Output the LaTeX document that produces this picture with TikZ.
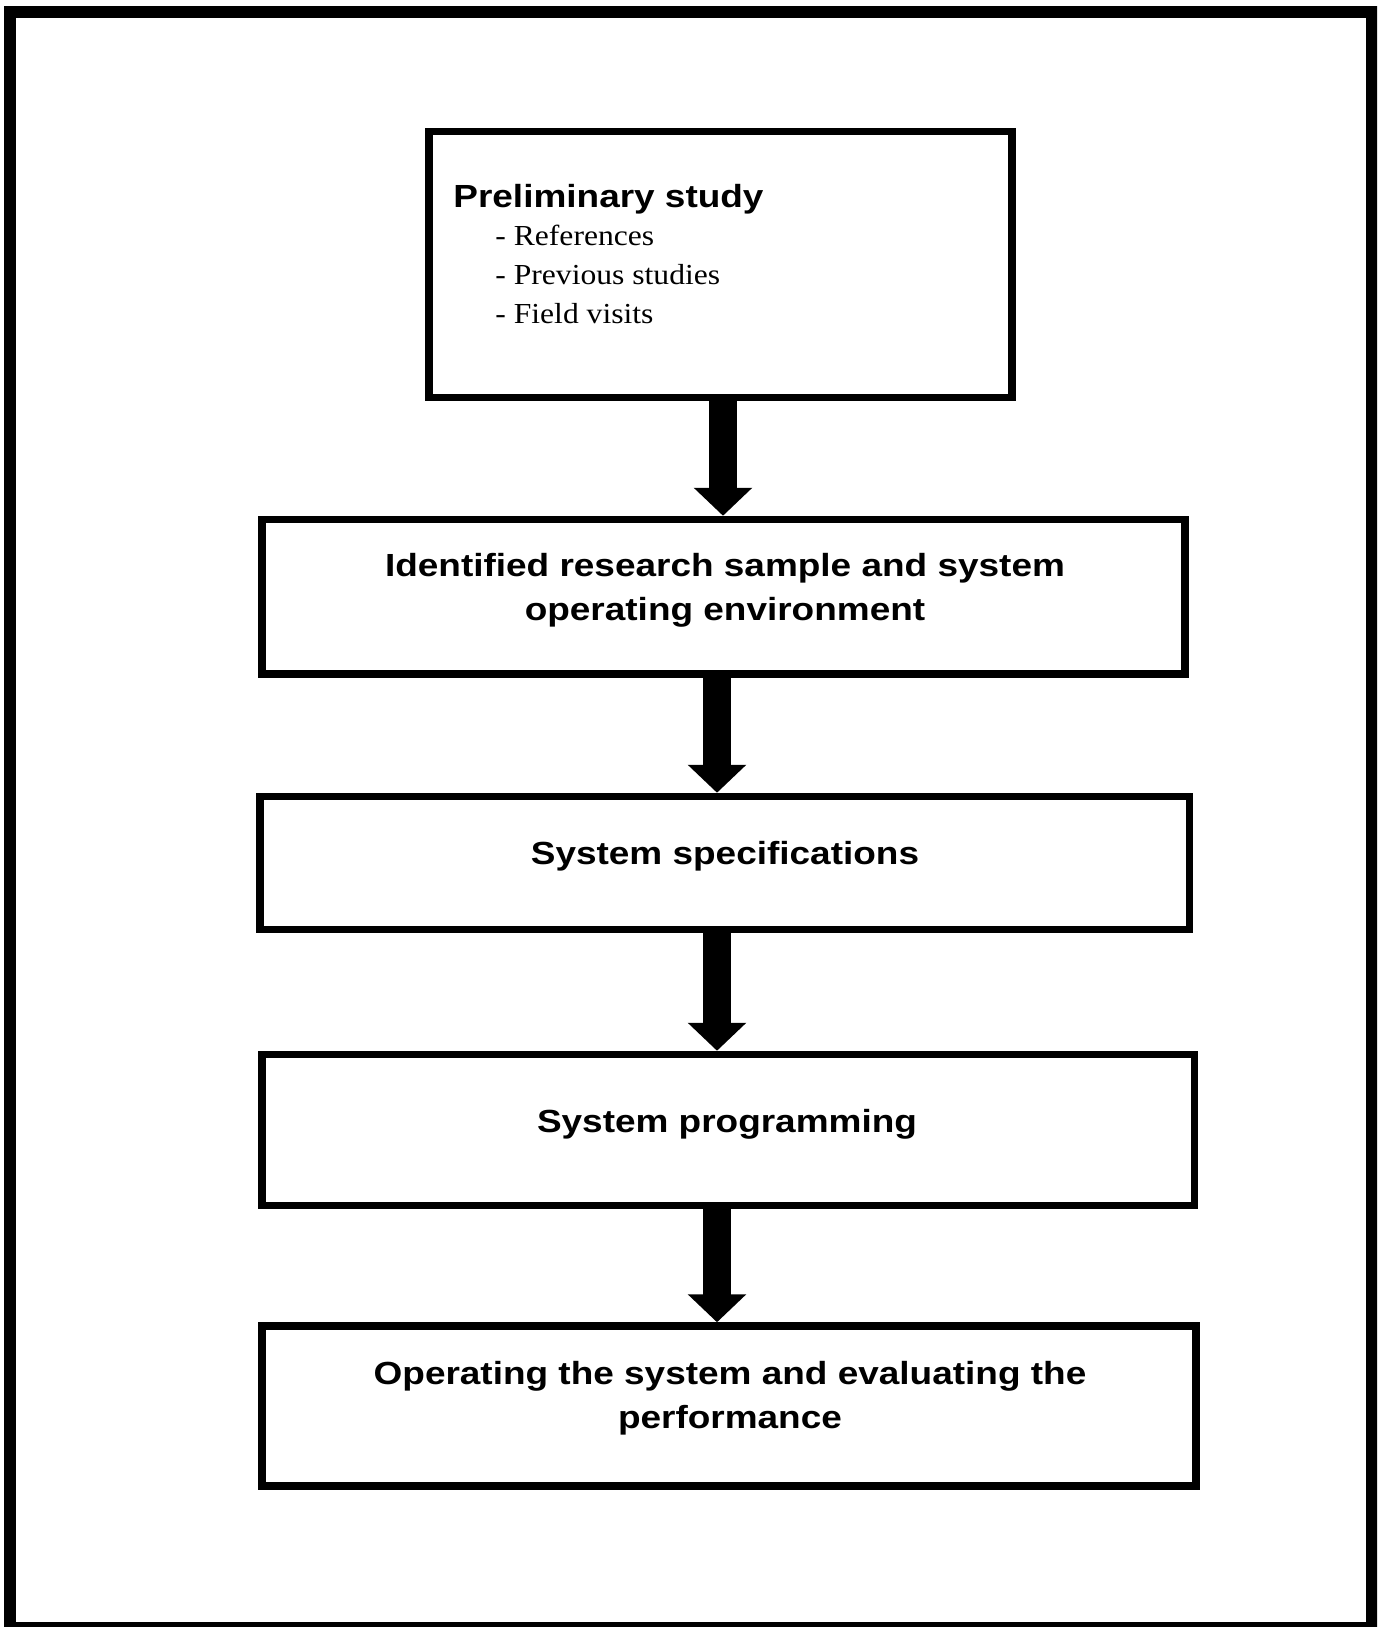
\documentclass[tikz,border=0pt]{standalone}
\usepackage{fontspec}
\setmainfont{Liberation Serif}
\newfontfamily\hdfont[FakeStretch=1.155]{Liberation Sans}
\newfontfamily\itemfont[FakeStretch=1.09]{Liberation Serif}
\usetikzlibrary{arrows.meta}
\begin{document}
\begin{tikzpicture}[x=0.5pt,y=-0.5pt,
  stagebox/.style={draw=black, line width=3.75pt, inner sep=0pt},
  headtext/.style={inner sep=0pt, anchor=base, align=center,
    font=\hdfont\bfseries\fontsize{16pt}{22pt}\selectfont},
  itemtext/.style={inner sep=0pt, anchor=base west, align=left,
    font=\itemfont\fontsize{14.5pt}{19.5pt}\selectfont},
  bigarrow/.style={draw=black, line width=13.75pt,
    -{Triangle[length=14pt,width=28.5pt]}}]
\useasboundingbox (0,0) rectangle (1377,1627);
\clip (0,0) rectangle (1377,1627);
% outer frame
\draw[line width=6pt] (10,12) rectangle (1372,1628);
% boxes
\node[stagebox, minimum width=291.5pt, minimum height=133pt] (p1) at (720.5,264.5) {};
\node[stagebox, minimum width=461.5pt, minimum height=77.25pt] (p2) at (723.5,596.75) {};
\node[stagebox, minimum width=464.75pt, minimum height=66.5pt] (p3) at (724.75,863) {};
\node[stagebox, minimum width=466.25pt, minimum height=75.5pt] (p4) at (728.25,1130) {};
\node[stagebox, minimum width=467pt, minimum height=80pt] (p5) at (729,1406) {};
% texts
\node[headtext, anchor=base west] (t1) at (453,207) {Preliminary study};
\node[itemtext] (t1a) at (495,245) {- References};
\node[itemtext] (t1b) at (495,284) {- Previous studies};
\node[itemtext] (t1c) at (495,323) {- Field visits};
\node[headtext] (t2) at (725,620) {Identified research sample and system\\operating environment};
\node[headtext] (t3) at (725,864) {System specifications};
\node[headtext] (t4) at (727,1132) {System programming};
\node[headtext] (t5) at (730,1428) {Operating the system and evaluating the\\performance};
% arrows
\coordinate (ax1) at (723,0);
\coordinate (ax2) at (717,0);
\draw[bigarrow] (p1.south -| ax1) -- (p2.north -| ax1);
\draw[bigarrow] (p2.south -| ax2) -- (p3.north -| ax2);
\draw[bigarrow] (p3.south -| ax2) -- (p4.north -| ax2);
\draw[bigarrow] (p4.south -| ax2) -- (p5.north -| ax2);
\end{tikzpicture}
\end{document}
